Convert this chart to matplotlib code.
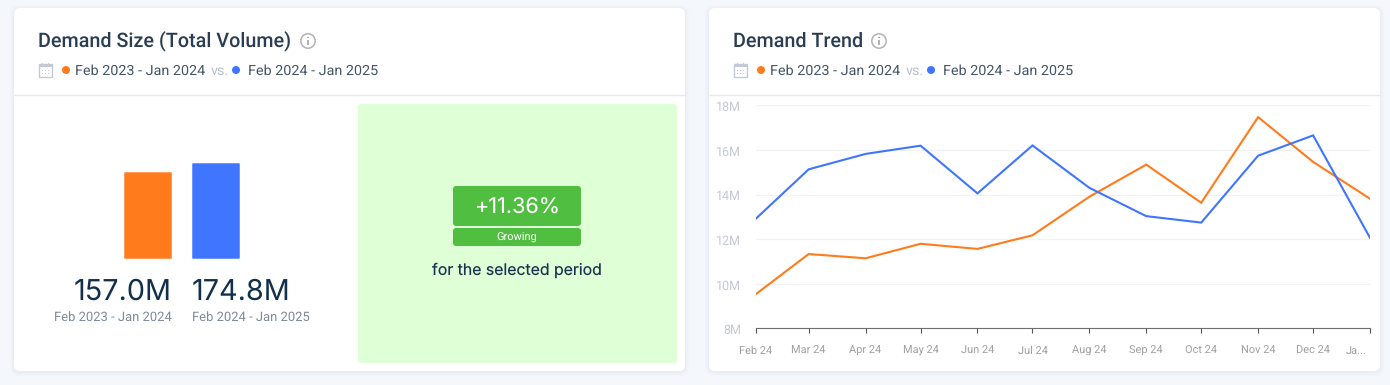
"""Demand size and demand trend cards, rebuilt with matplotlib."""

import pandas as pd
from matplotlib import pyplot as plt
from matplotlib.patches import Circle, FancyBboxPatch, Rectangle
from matplotlib.transforms import ScaledTranslation

W, H = 1390, 385
PX = 0.72  # 1 px in points at dpi 100

plt.rcParams["text.hinting"] = "no_hinting"

ORANGE = "#FF7B1C"
BLUE = "#3F75FF"
PAGE_BG = "#F4F7FC"
TITLE_C = "#2B3D52"
LEGEND_C = "#465569"

PERIODS = ["Feb 2023 - Jan 2024", "Feb 2024 - Jan 2025"]
TOTALS = [157.0, 174.8]
TOTAL_LABELS = ["157.0M", "174.8M"]
CHANGE_LABEL = "+11.36%"
CHANGE_NAME = "Growing"
CHANGE_NOTE = "for the selected period"

MONTHS = pd.date_range("2024-02-01", "2025-01-01", freq="MS")
MONTH_LABELS = ["Feb 24", "Mar 24", "Apr 24", "May 24", "Jun 24", "Jul 24",
                "Aug 24", "Sep 24", "Oct 24", "Nov 24", "Dec 24", "Ja..."]
PREV_PERIOD = [9.52, 11.33, 11.14, 11.79, 11.56, 12.17, 13.9, 15.34, 13.63, 17.47, 15.46, 13.81]
CURR_PERIOD = [12.9, 15.13, 15.82, 16.19, 14.05, 16.2, 14.3, 13.03, 12.74, 15.74, 16.65, 12.06]
Y_TICKS = [8, 10, 12, 14, 16, 18]
Y_LABELS = ["8M", "10M", "12M", "14M", "16M", "18M"]


def px_axes(fig, x0, y0, x1, y1, **kwargs):
    """Add axes from pixel box, y counted from the top."""
    return fig.add_axes([x0 / W, 1 - y1 / H, (x1 - x0) / W, (y1 - y0) / H], **kwargs)


def round_box(ax, x0, y0, x1, y1, r, color, **kwargs):
    box = FancyBboxPatch((x0 + r, y0 + r), x1 - x0 - 2 * r, y1 - y0 - 2 * r,
                         boxstyle=f"round,pad={r},rounding_size={r}",
                         fc=color, ec="none", **kwargs)
    ax.add_patch(box)


def label(ax, x, y, text, size, color, ha="left", family="Roboto", weight="normal", **kwargs):
    ax.text(x, y, text, fontsize=size * PX, color=color, ha=ha, va="baseline",
            family=family, weight=weight, **kwargs)


def draw_card(ax, x0, title, title_end):
    """Card frame, title, info icon and period legend. x0 is the card's left edge."""
    x1 = x0 + 671
    for grow, alpha in [(4, 0.05), (2.5, 0.07), (1, 0.10)]:
        round_box(ax, x0 - grow, 8 - grow + 1, x1 + grow, 371 + grow + 1, 6 + grow,
                  "#C5CEDD", alpha=alpha)
    round_box(ax, x0, 8, x1, 371, 6, "white")
    ax.plot([x0, x1], [95, 95], color="#E6E8EC", lw=1.0, solid_capstyle="butt")

    label(ax, x0 + 24, 47, title, 19.8, TITLE_C, weight="medium")

    # info icon
    ic = title_end + 17
    ax.add_patch(Circle((ic, 41), 7.2, fc="none", ec="#B3B3B3", lw=1.1))
    ax.add_patch(Rectangle((ic - 0.7, 40), 1.4, 5, fc="#B3B3B3", ec="none"))
    ax.add_patch(Rectangle((ic - 0.7, 36.8), 1.4, 1.5, fc="#B3B3B3", ec="none"))

    # calendar icon
    cx = x0 + 25
    ax.add_patch(Rectangle((cx, 64), 13, 12.5, fc="none", ec="#C3C9D6", lw=1.0))
    ax.add_patch(Rectangle((cx, 64), 13, 3, fc="#C3C9D6", ec="none"))
    for tx in (cx + 3, cx + 9):
        ax.add_patch(Rectangle((tx, 62.5), 1, 2, fc="#C3C9D6", ec="none"))
    for ty in (70, 73):
        for tx in (cx + 2.5, cx + 5.5, cx + 8.5):
            ax.add_patch(Rectangle((tx, ty), 1.6, 1.4, fc="#C3C9D6", ec="none"))

    # period legend
    ax.add_patch(Circle((x0 + 52, 70), 4, fc=ORANGE, ec="none"))
    label(ax, x0 + 61, 75, PERIODS[0], 14.4, LEGEND_C)
    label(ax, x0 + 197, 75, "vs.", 14.4, "#B9C0CC")
    ax.add_patch(Circle((x0 + 222, 70), 4, fc=BLUE, ec="none"))
    label(ax, x0 + 234, 75, PERIODS[1], 14.4, LEGEND_C)


def draw_total_bars(fig):
    ax = px_axes(fig, 124, 163.6, 240, 258)
    # thin same colour edge gives the slightly rounded corners
    ax.bar([0, 1], TOTALS, width=46.5 / 68, color=[ORANGE, BLUE], edgecolor=[ORANGE, BLUE],
           linewidth=1.5 * PX, joinstyle="round", clip_on=False)
    ax.set_xlim(-24 / 68, 1 + 24 / 68)
    ax.set_ylim(0, TOTALS[1])
    ax.axis("off")


def draw_trend(fig):
    ax = px_axes(fig, 755.5, 105.3, 1370, 328.3)
    ax.patch.set_alpha(0)
    ax.plot(MONTHS, PREV_PERIOD, color=ORANGE, lw=1.5, solid_joinstyle="miter")
    ax.plot(MONTHS, CURR_PERIOD, color=BLUE, lw=1.5, solid_joinstyle="miter")
    ax.set_xlim(MONTHS[0], MONTHS[-1])
    ax.set_ylim(8, 18)
    ax.set_yticks(Y_TICKS, Y_LABELS)
    ax.set_xticks(MONTHS, MONTH_LABELS)
    ax.grid(axis="y", color="#F1F2F4", lw=0.9)
    ax.set_axisbelow(True)
    for side in ["top", "left", "right"]:
        ax.spines[side].set_visible(False)
    ax.spines["bottom"].set_color("#6F6F6F")
    ax.spines["bottom"].set_linewidth(0.8)
    ax.tick_params(axis="y", length=0, pad=10.5, labelsize=12.5 * PX, labelcolor="#C5CAD3")
    ax.tick_params(axis="x", length=3.6, width=0.8, color="#555555", pad=9,
                   labelsize=11 * PX, labelcolor="#A0A0A0")
    for tick in ax.get_xticklabels() + ax.get_yticklabels():
        tick.set_family("Roboto")
    # y labels sit 1 px under their grid line
    for tick in ax.get_yticklabels():
        tick.set_transform(tick.get_transform() + ScaledTranslation(0, -1 / 100, fig.dpi_scale_trans))
    # last month is squeezed in at the right edge
    last = ax.get_xticklabels()[-1]
    last.set_ha("right")
    last.set_transform(last.get_transform() + ScaledTranslation(-4 / 100, 0, fig.dpi_scale_trans))


def main():
    fig = plt.figure(figsize=(W / 100, H / 100), dpi=100, facecolor=PAGE_BG)
    bg = px_axes(fig, 0, 0, W, H)
    bg.set_xlim(0, W)
    bg.set_ylim(H, 0)
    bg.axis("off")

    draw_card(bg, 14, "Demand Size (Total Volume)", 291)
    draw_card(bg, 709, "Demand Trend", 862)

    # left card, totals
    num_c = "#12304B"
    label(bg, 172, 300, TOTAL_LABELS[0], 28.8, num_c, ha="right", family="Inter")
    label(bg, 192, 300, TOTAL_LABELS[1], 28.8, num_c, family="Inter")
    label(bg, 172, 321, PERIODS[0], 13, "#7F8B9A", ha="right")
    label(bg, 192, 321, PERIODS[1], 13, "#7F8B9A")

    # growth panel
    round_box(bg, 358, 104, 677, 363, 3, "#DFFFD6")
    round_box(bg, 453, 186, 581, 226, 3, "#50BF41")
    round_box(bg, 453, 228, 581, 246, 3, "#50BF41")
    label(bg, 517, 214, CHANGE_LABEL, 21.6, "white", ha="center", family="Inter")
    label(bg, 517, 240.5, CHANGE_NAME, 11, "white", ha="center")
    label(bg, 517, 275, CHANGE_NOTE, 15.8, "#1A3350", ha="center", family="Inter")

    draw_total_bars(fig)
    draw_trend(fig)
    fig.savefig("out.png", dpi=100, facecolor=PAGE_BG)


if __name__ == "__main__":
    main()
